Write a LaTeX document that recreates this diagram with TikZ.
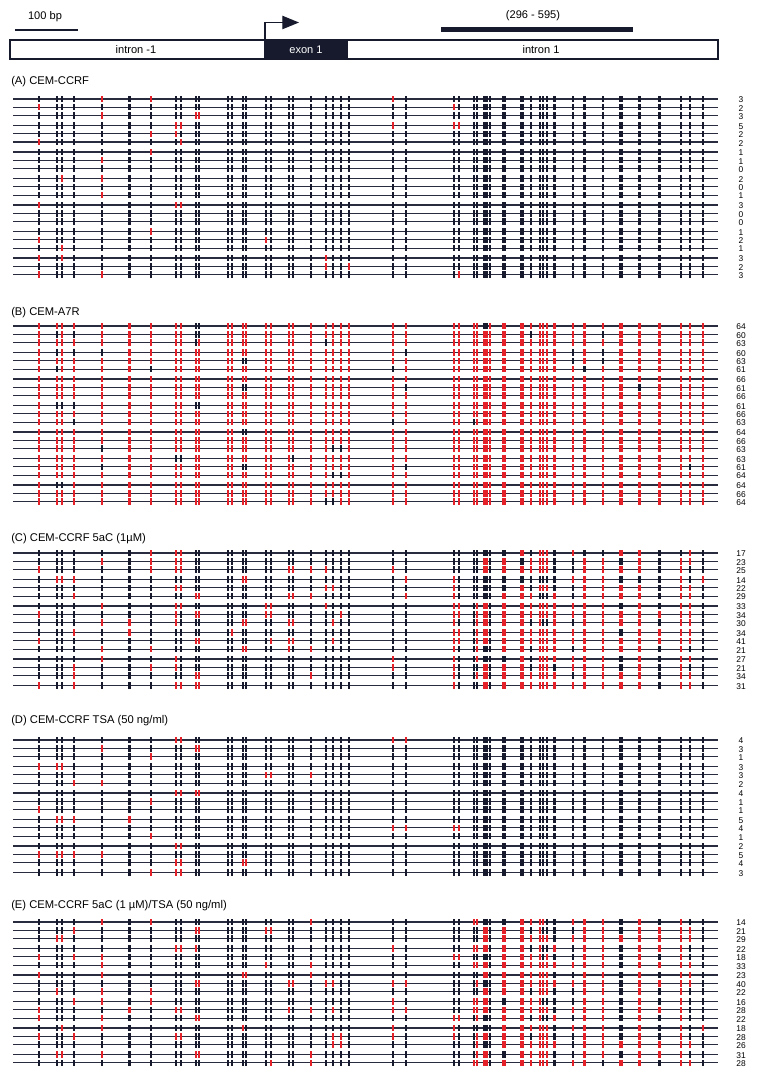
\documentclass[tikz,border=0pt]{standalone}
\usepackage{fontspec}
\setmainfont{Liberation Sans}
\usetikzlibrary{arrows.meta}

\definecolor{cpgred}{RGB}{228,32,40}
\definecolor{cpgnavy}{RGB}{22,26,44}
\definecolor{rowgrey}{RGB}{40,44,62}

\tikzset{
  rowline/.style={draw=rowgrey, line width=0.9pt},
  panel title/.style={anchor=west, inner sep=0pt, font=\fontsize{8.4}{10}\selectfont},
  count label/.style={inner sep=0pt, font=\fontsize{6.3}{7}\selectfont},
  gene text/.style={inner sep=0pt, font=\fontsize{8.3}{10}\selectfont}
}

% CpG sites: x position / bar width (pixels of the figure)
\newcommand\cpgsites{39/2,57.3/2,62/2,74/2,102.3/2,129.3/2.8,150.7/2,175.7/2,180.7/2,196/2,199.3/2,228/2.8,232.4/2,242.7/2,246/2,266/2,270.7/2,289.3/2,293.3/2,311/2,326/2,332.7/2,341/2,349.3/2,392.7/2,406/2,454/2,459/2,474/2,477/2.8,485.5/4.4,489.5/2,504/3.4,522/4.6,531/2,539.5/2,543/2,546.5/2,554.5/2.8,573/2,584.5/2.8,603/2.8,621/3.8,639.5/2.8,659.5/2.8,681/2,689.5/2,703/2}

% one clone: #1 y, #2 usual colour, #3 colour of the listed sites, #4 list
\makeatletter
\newcommand\cpgrow[4]{%
  \draw[rowline] (13,#1) -- (718,#1);
  \foreach \x/\w [count=\i] in \cpgsites {%
    \edef\cpgtest{\noexpand\in@{,\i,}{,#4,}}\cpgtest
    \ifin@ \def\cpgcol{#3}\else \def\cpgcol{#2}\fi
    \fill[fill=\cpgcol] (\x-\w/2,#1-3.2) rectangle (\x+\w/2,#1+3.2);
  }%
}
\makeatother

\begin{document}
\begin{tikzpicture}[x=0.75pt,y=-0.75pt]
  \useasboundingbox[fill=white] (0,0) rectangle (757,1077);

  % scale and gene map
  \node[gene text] (bplabel) at (45,17) {100 bp};
  \coordinate (bpL) at (15,30);
  \coordinate (bpR) at (78,30);
  \draw[line width=1pt, draw=cpgnavy] (bpL) -- (bpR);

  \draw[line width=0.9pt, draw=cpgnavy] (10,40) rectangle (718,59);
  \fill[cpgnavy] (264,40) rectangle (348,59);
  \node[gene text] (intronm) at (136,49.5) {intron -1};
  \node[gene text, text=white] (exon) at (306,49.5) {exon 1};
  \node[gene text] (intronp) at (541,49.5) {intron 1};

  \coordinate (tss) at (265,40);
  \coordinate (tsshead) at (299,22.5);
  \draw[line width=0.9pt, draw=cpgnavy, -{Triangle[length=12.5pt,width=10pt]}] (tss) |- (tsshead);

  \coordinate (ampL) at (441,29.5);
  \coordinate (ampR) at (633,29.5);
  \draw[line width=3.4pt, draw=cpgnavy] (ampL) -- (ampR);
  \node[gene text] (amplabel) at (533,16) {(296 - 595)};

  % (A) CEM-CCRF
  \node[panel title] (titleA) at (11,82) {(A) CEM-CCRF};
  \foreach \n/\marks [count=\r] in {3/{5,7,25},2/{1,27},3/{5,10,11},5/{8,9,25,27,28},2/{7,8},2/{1,9},
      1/{7},1/{5},0/{0},2/{3,5},0/{0},1/{5},3/{1,8,9},0/{0},0/{0},1/{7},2/{1,16},1/{3},
      3/{1,3,21},2/{21,24},3/{1,5,28}} {
    \pgfmathsetmacro\yy{99+(\r-1)*8.3+int((\r-1)/3)*1.6}
    \cpgrow{\yy}{cpgnavy}{cpgred}{\marks}
    \node[count label] (nA\r) at (741,\yy+1) {\n};
  }

  % (B) CEM-A7R, listed sites unmethylated
  \node[panel title] (titleB) at (11,312.5) {(B) CEM-A7R};
  \foreach \n/\marks [count=\r] in {64/{10,11,31},60/{2,4,10,11,35,42},63/{10,21},60/{2,4,5,26,40,42},
      63/{14,15,40,42},61/{2,7,25,41},66/{0},61/{14,15,26,44},66/{0},61/{2,3,4,10,11},66/{0},
      63/{4,25,29},64/{14,15},66/{0},63/{5,22,23},63/{8,9,19},61/{5,14,15,26,47},64/{22,23},
      64/{2,3},66/{0},64/{21,22}} {
    \pgfmathsetmacro\yy{326+(\r-1)*8.3+int((\r-1)/3)*1.6}
    \cpgrow{\yy}{cpgred}{cpgnavy}{\marks}
    \node[count label] (nB\r) at (741,\yy+1) {\n};
  }

  % (C) CEM-CCRF 5aC
  \node[panel title] (titleC) at (11,538.5) {(C) CEM-CCRF 5aC (1µM)};
  \foreach \n/\marks [count=\r] in {17/{7,8,9,34,36,37,38,40,43,44,47},
      23/{5,7,8,9,31,33,35,36,37,38,41,42,44,46,47},
      25/{1,7,8,9,18,19,20,21,25,31,33,34,35,36,37,38,41,42,43,44,46},
      14/{2,3,4,14,15,26,27,40,41,42,46,48},
      22/{8,9,21,22,27,34,36,37,38,41,42,43,44,46,47},
      29/{4,10,11,18,19,20,26,27,33,34,35,39,41,42,43,44,46,47},
      33/{5,8,9,16,17,21,27,28,30,31,33,34,35,36,37,38,39,40,41,42,44,46,47},
      34/{1,8,10,11,16,17,23,27,28,30,31,33,34,35,36,37,38,39,40,41,42,43,44,45,46,47},
      30/{5,6,8,14,15,18,19,22,27,30,31,33,34,36,39,41,42,43,44,46,47},
      34/{4,6,13,27,28,30,31,33,34,35,36,37,38,39,40,41,42,44,45,46,47},
      41/{1,10,11,17,18,19,22,27,28,30,31,33,34,35,36,37,38,39,40,41,42,43,44,45,46,47},
      21/{5,7,14,15,18,20,27,30,33,34,36,37,38,39,41,42,43,44,46},
      27/{5,8,25,27,30,34,36,37,38,39,40,41,42,44,46,47},
      21/{4,7,8,25,27,31,33,34,36,37,38,40,41,42,44,46},
      34/{4,10,11,20,27,30,31,33,34,35,36,37,38,39,41,42,43,44,46,47},
      31/{1,4,8,9,10,11,27,31,33,34,35,36,37,38,39,40,41,42,43,44,46,47}} {
    \pgfmathsetmacro\yy{553+(\r-1)*8.3+int((\r-1)/3)*1.6}
    \cpgrow{\yy}{cpgnavy}{cpgred}{\marks}
    \node[count label] (nC\r) at (741,\yy+1) {\n};
  }

  % (D) CEM-CCRF TSA
  \node[panel title] (titleD) at (11,721) {(D) CEM-CCRF TSA (50 ng/ml)};
  \foreach \n/\marks [count=\r] in {4/{8,9,25,26},3/{5,10,11},1/{7},3/{1,2,3},3/{16,17,20},2/{4,5},
      4/{8,9,10,11},1/{7},1/{1},5/{2,3,4,6},4/{25,26,27,28},1/{7},2/{8,9},5/{1,2,3,4,5},
      4/{8,9,14,15},3/{7,8,9}} {
    \pgfmathsetmacro\yy{740+(\r-1)*8.3+int((\r-1)/3)*1.6}
    \cpgrow{\yy}{cpgnavy}{cpgred}{\marks}
    \node[count label] (nD\r) at (741,\yy+1) {\n};
  }

  % (E) CEM-CCRF 5aC/TSA
  \node[panel title] (titleE) at (11,906) {(E) CEM-CCRF 5aC (1 µM)/TSA (50 ng/ml)};
  \foreach \n/\marks [count=\r] in {14/{5,7,20,29,30,34,35,36,37,40,41,42,44,46},
      21/{4,10,11,16,17,31,33,34,36,41,42,44,45,46,47},
      29/{2,3,31,33,34,35,36,37,38,40,41,42,43,44,45,46,47},
      22/{8,9,10,25,29,30,31,33,34,36,39,41,42,44,45,46},
      18/{1,4,5,27,28,33,34,35,36,38,41,42,44,46},
      33/{5,16,20,29,30,31,33,34,35,36,37,38,39,40,41,42,44,45,46,47},
      23/{1,5,14,15,20,31,33,34,35,36,37,38,41,42,44,46,47},
      40/{10,11,18,19,21,22,25,26,30,33,34,35,36,37,38,39,40,41,42,44,45,46,47},
      22/{2,5,7,31,33,34,36,37,38,41,42,44,46},
      16/{4,5,7,25,29,30,31,34,35,36,41,42,44,46},
      28/{1,6,8,9,18,20,22,25,26,29,30,31,33,34,35,36,37,38,40,41,42,44,45,46},
      22/{1,5,10,11,27,28,30,33,34,36,39,41,42,44,46},
      18/{3,5,14,25,27,33,34,35,36,37,38,40,41,42,44,46,48},
      28/{1,4,8,9,22,23,25,27,30,31,33,34,36,37,38,41,42,44,46},
      26/{22,23,30,33,34,35,36,37,38,39,41,42,43,44,45,46,47},
      31/{2,3,5,10,11,20,30,31,34,35,36,37,38,41,42,44,45,46},
      28/{17,20,29,30,31,33,34,35,36,37,38,40,41,43,44,46,47}} {
    \pgfmathsetmacro\yy{922+(\r-1)*8.3+int((\r-1)/3)*1.6}
    \cpgrow{\yy}{cpgnavy}{cpgred}{\marks}
    \node[count label] (nE\r) at (741,\yy+1) {\n};
  }
\end{tikzpicture}
\end{document}
